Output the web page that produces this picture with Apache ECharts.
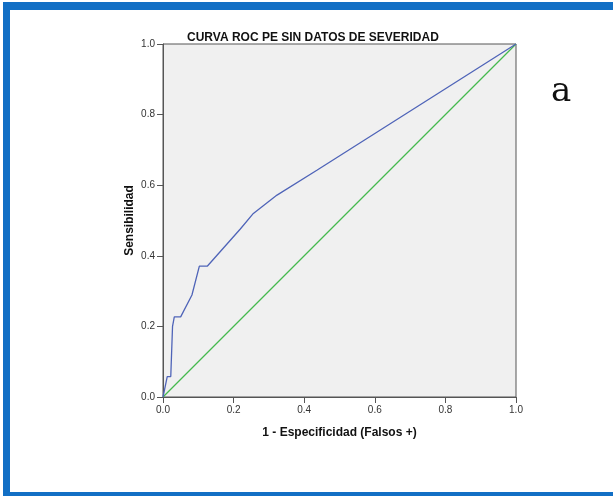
<!DOCTYPE html>
<html>
<head>
<meta charset="utf-8">
<script src="https://cdn.jsdelivr.net/npm/echarts@6/dist/echarts.min.js"></script>
<style>
  html, body { margin: 0; padding: 0; background: #fff; }
  #main { width: 613px; height: 496px; }
</style>
</head>
<body>
<div id="main"></div>
<script>
// puntos de la curva ROC (1 - especificidad, sensibilidad)
var fpr = [0, 0.006, 0.012, 0.022, 0.027, 0.029, 0.032, 0.05, 0.082, 0.103, 0.126, 0.219, 0.256, 0.323, 0.437, 1];
var tpr = [0, 0.029, 0.058, 0.058, 0.2, 0.2, 0.227, 0.227, 0.289, 0.371, 0.371, 0.476, 0.52, 0.572, 0.643, 1];
// linea de referencia
var refX = [0, 1];
var refY = [0, 1];

var chart = echarts.init(document.getElementById('main'));

var rocData = fpr.map(function (x, i) { return [x, tpr[i]] });
var refData = refX.map(function (x, i) { return [x, refY[i]] });

var axisCommon = {
  type: 'value',
  min: 0,
  max: 1,
  interval: 0.2,
  nameLocation: 'middle',
  nameMoveOverlap: false,
  nameTextStyle: { fontFamily: 'Liberation Sans', fontWeight: 'bold', fontSize: 12, color: '#111' },
  axisLine: { show: true, lineStyle: { color: '#555', width: 1 } },
  axisTick: { show: true, inside: false, length: 6, lineStyle: { color: '#555' } },
  axisLabel: {
    fontFamily: 'Liberation Sans', fontSize: 10, color: '#333', margin: 8,
    formatter: function (v) { return v.toFixed(1) }
  },
  splitLine: { show: false }
};

var option = {
  animation: false,
  backgroundColor: '#fff',
  title: {
    text: 'CURVA ROC PE SIN DATOS DE SEVERIDAD',
    left: 182,
    top: 27,
    textStyle: { fontFamily: 'Liberation Sans', fontWeight: 'bold', fontSize: 12, color: '#111' }
  },
  grid: {
    left: 163,
    top: 44,
    width: 353,
    height: 353,
    show: true,
    backgroundColor: '#F0F0F0',
    borderColor: '#555',
    borderWidth: 1
  },
  xAxis: Object.assign({}, axisCommon, {
    name: '1 - Especificidad (Falsos +)',
    nameGap: 30
  }),
  yAxis: Object.assign({}, axisCommon, {
    name: 'Sensibilidad',
    nameGap: 27
  }),
  graphic: [
    // marco azul
    { type: 'rect', shape: { x: 3, y: 2, width: 610, height: 8 }, style: { fill: '#126FC5' }, silent: true },
    { type: 'rect', shape: { x: 3, y: 2, width: 7, height: 494 }, style: { fill: '#126FC5' }, silent: true },
    { type: 'rect', shape: { x: 3, y: 492, width: 610, height: 4 }, style: { fill: '#126FC5' }, silent: true },
    {
      type: 'text', left: 551, top: 75,
      style: { text: 'a', font: '34px "DejaVu Serif"', fill: '#111' }
    }
  ],
  series: [
    {
      type: 'line',
      data: rocData,
      showSymbol: false,
      lineStyle: { color: '#4F64B8', width: 1.3 },
      z: 3
    },
    {
      type: 'line',
      data: refData,
      showSymbol: false,
      lineStyle: { color: '#45B94E', width: 1.3 },
      z: 2
    }
  ]
};

chart.setOption(option);
</script>
</body>
</html>
